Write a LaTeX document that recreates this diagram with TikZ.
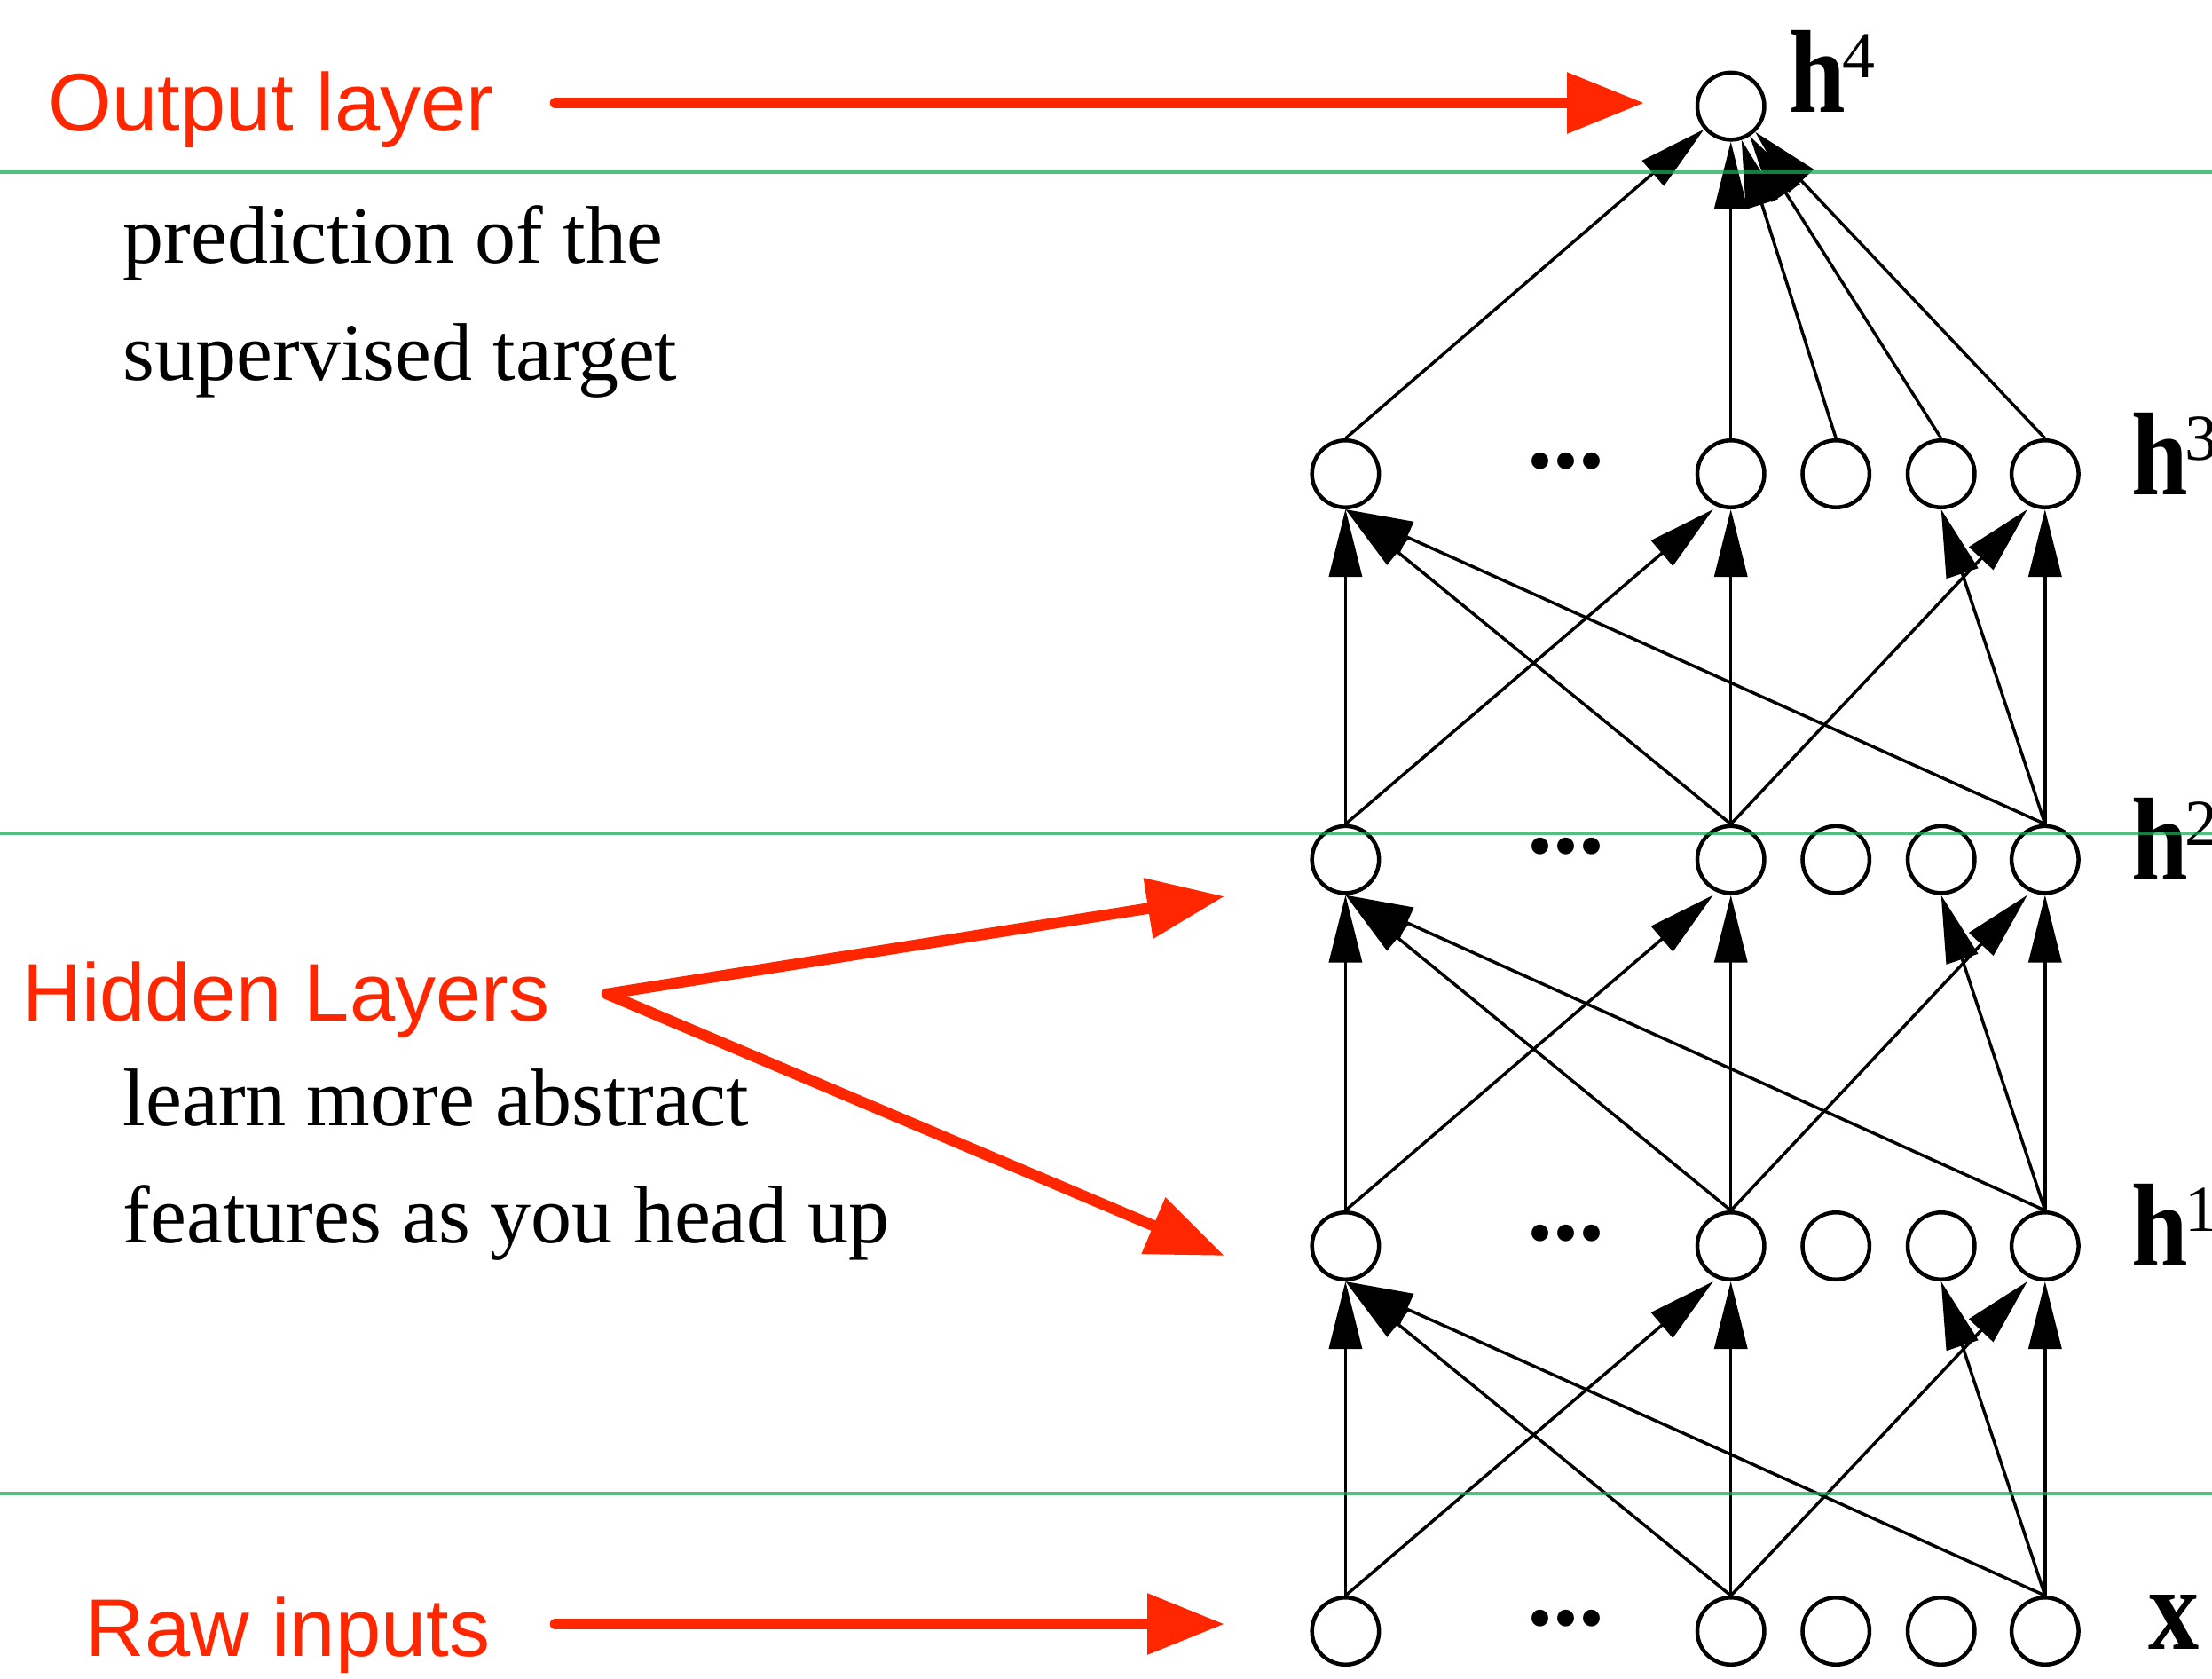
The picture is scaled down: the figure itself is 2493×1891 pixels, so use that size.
\documentclass[tikz,border=0pt]{standalone}
\usepackage{fontspec}
\setmainfont{Liberation Serif}
\newfontfamily\helv{Liberation Sans}
\usetikzlibrary{arrows.meta,calc}
\definecolor{apred}{RGB}{255,38,0}
\definecolor{sepgreen}{RGB}{25,170,85}
\newcommand\mysup[1]{\kern-0.4mm\raisebox{3.9mm}{\fontsize{21pt}{21pt}\selectfont\mdseries #1}}
\newcommand\bigh{\scalebox{0.93}[1.08]{h}}
\begin{document}
\begin{tikzpicture}[x=0.1mm,y=-0.1mm,
  neuron/.style={draw, circle, line width=0.45mm, minimum size=7.55mm, inner sep=0pt},
  conn/.style={line width=0.35mm, -{Triangle[length=7.6mm,width=3.7mm]}},
  redarrow/.style={apred, line width=1.25mm, line cap=round, line join=round, -{Triangle[length=8.7mm,width=6.6mm]}},
  sepline/.style={sepgreen, opacity=0.75, line width=0.45mm},
  redlabel/.style={apred, anchor=base west, inner sep=0pt, font=\helv\fontsize{26.2pt}{31pt}\selectfont},
  note/.style={anchor=base west, inner sep=0pt, font=\fontsize{26.2pt}{31pt}\selectfont},
  layerlab/.style={anchor=base west, inner sep=0pt, font=\fontsize{35pt}{40pt}\selectfont\bfseries},
  dotlab/.style={anchor=base, inner sep=0pt, font=\fontsize{33pt}{36pt}\selectfont\bfseries},
]
\useasboundingbox (0,0) rectangle (2493,1891);

% neurons
\foreach \L/\y in {x/1838, a/1404, b/968.6, c/534}{
  \foreach \i/\xx in {1/1516.4, 2/1950.7, 3/2069.2, 4/2187.7, 5/2304.8}{
    \node[neuron] (\L\i) at (\xx,\y) {};
  }
  \node[dotlab] (d\L) at (1765,{\y-7}) {...};
}
\node[neuron] (o) at (1950.7,119.6) {};

% connections between layers
\foreach \s/\t in {x/a, a/b, b/c}{
  \draw[conn] (\s1.north) -- (\t1.south);
  \draw[conn] (\s1.north) -- ($(\t2.south)+(-20,0)$);
  \draw[conn] (\s2.north) -- (\t1.south);
  \draw[conn] (\s2.north) -- (\t2.south);
  \draw[conn] (\s2.north) -- ($(\t5.south)+(-20,0)$);
  \draw[conn] (\s5.north) -- (\t1.south);
  \draw[conn] (\s5.north) -- (\t4.south);
  \draw[conn] (\s5.north) -- (\t5.south);
}
\foreach \i in {1,...,5}{
  \draw[conn] (c\i.north) -- (o);
}

% layer labels
\node[layerlab] (l4) at (2016,126.3) {\bigh\mysup{4}};
\node[layerlab] (l3) at (2402,557) {\bigh\mysup{3}};
\node[layerlab] (l2) at (2402,991.6) {\bigh\mysup{2}};
\node[layerlab] (l1) at (2402,1426) {\bigh\mysup{1}};
\node[layerlab] (l0) at (2421,1858) {\scalebox{0.93}[1.08]{x}};

% left annotations
\node[redlabel] (outlab) at (54,147) {Output layer};
\node[note] (pred1) at (138,296.7) {prediction of the};
\node[note] (pred2) at (138,428) {supervised target};
\node[redlabel] (hidlab) at (25,1150) {Hidden Layers};
\node[note] (learn1) at (138,1268) {learn more abstract};
\node[note] (learn2) at (138,1400) {features as you head up};
\node[redlabel] (rawlab) at (96,1866.7) {Raw inputs};

% red arrows
\coordinate (outstart) at (626,116);
\coordinate (outtip) at (1853,116);
\coordinate (hidapex) at (684,1120);
\coordinate (hidtipA) at (1380,1010);
\coordinate (hidtipB) at (1380,1415);
\coordinate (rawstart) at (626,1830);
\coordinate (rawtip) at (1380,1830);
\draw[redarrow] (outstart) -- (outtip);
\draw[redarrow] (hidapex) -- (hidtipA);
\draw[redarrow] (hidapex) -- (hidtipB);
\draw[redarrow] (rawstart) -- (rawtip);

% green separators
\draw[sepline] (0,194) -- (2493,194);
\draw[sepline] (0,939) -- (2493,939);
\draw[sepline] (0,1683) -- (2493,1683);
\end{tikzpicture}
\end{document}
